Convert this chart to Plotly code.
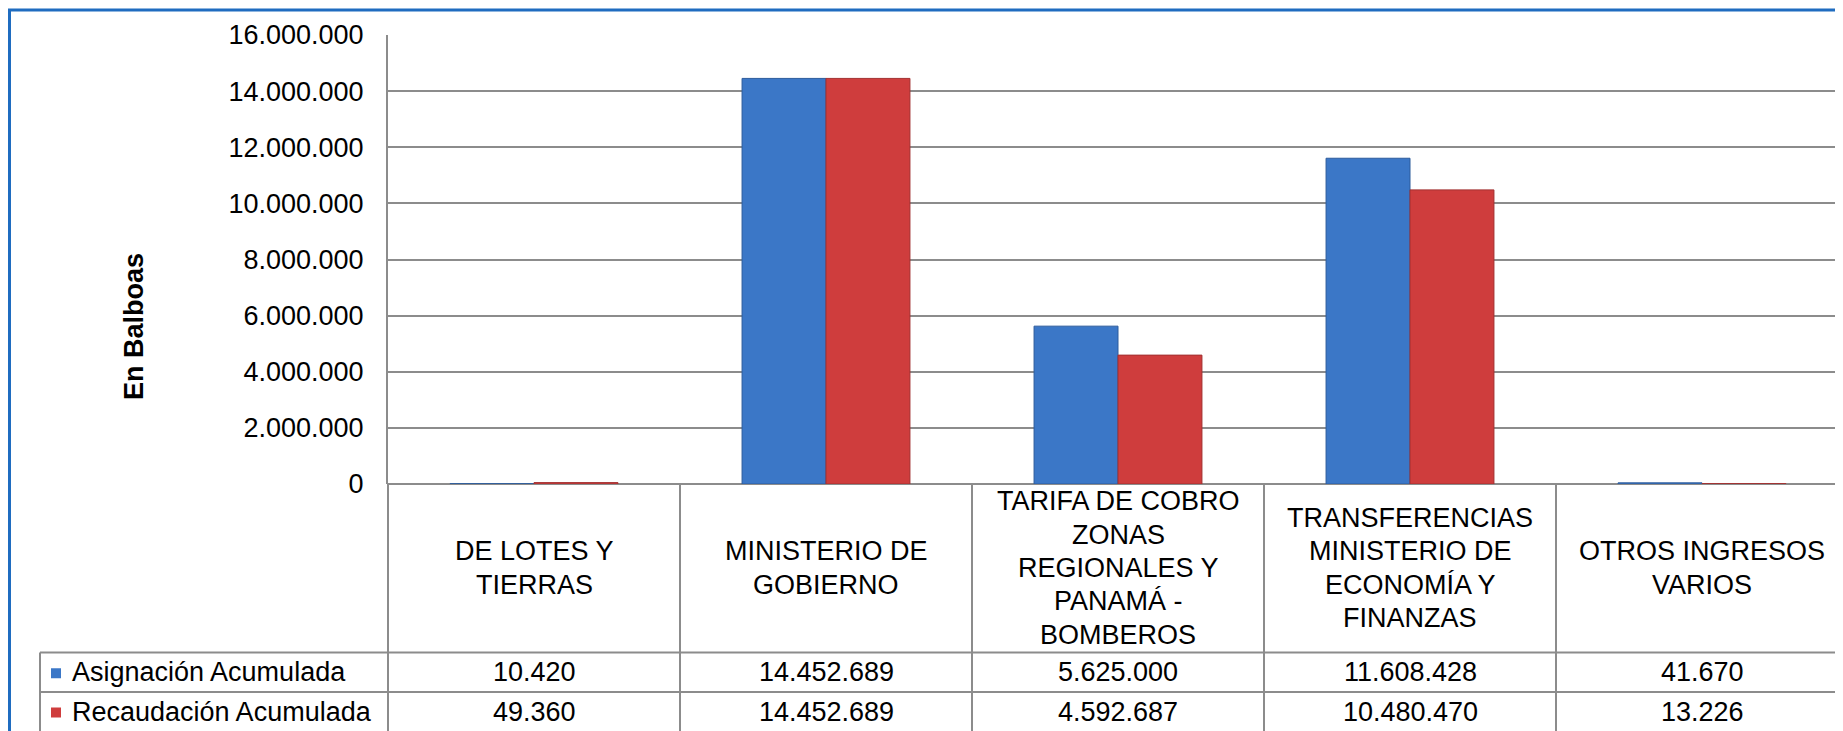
import plotly.graph_objects as go

# ---- data ----
categories = [
    "DE LOTES Y<br>TIERRAS",
    "MINISTERIO DE<br>GOBIERNO",
    "TARIFA DE COBRO<br>ZONAS<br>REGIONALES Y<br>PANAMÁ -<br>BOMBEROS",
    "TRANSFERENCIAS<br>MINISTERIO DE<br>ECONOMÍA Y<br>FINANZAS",
    "OTROS INGRESOS<br>VARIOS",
]
series_names = ["Asignación Acumulada", "Recaudación Acumulada"]
asignacion = [10420, 14452689, 5625000, 11608428, 41670]
recaudacion = [49360, 14452689, 4592687, 10480470, 13226]
y_ticks = [0, 2000000, 4000000, 6000000, 8000000, 10000000, 12000000, 14000000, 16000000]
y_title = "En Balboas"

# ---- style ----
FONT = "Liberation Sans, Arial, sans-serif"
FS = 27
GRID = "#8c8c8c"
fills = ["#3b77c7", "#cf3d3d"]
edges = ["#2d5c9c", "#a33131"]
OFF = 8  # page body margin
W, H = 1843 - OFF, 731 - OFF
# pixel bounds measured on the page, converted to figure coordinates
L, T, B = 388 - OFF, 35 - OFF, 484 - OFF


def px(x_page):
    return (x_page - OFF - L) / (W - L)


def py(y_page):
    return (B - (y_page - OFF)) / (B - T)


def fmt(v):
    return f"{v:,}".replace(",", ".")


xs = list(range(len(categories)))
fig = go.Figure()
for name, vals, fc, ec in zip(series_names, [asignacion, recaudacion], fills, edges):
    fig.add_trace(go.Bar(
        x=xs, y=vals, name=name,
        marker=dict(color=fc, line=dict(color=ec, width=1)),
        hoverinfo="y+name",
    ))

shapes = []
annotations = []

# outer blue frame
shapes.append(dict(type="rect", xref="paper", yref="paper",
                   x0=px(9.5), x1=px(1843 + 20), y0=py(10), y1=py(731 + 20),
                   line=dict(color="#1f6cc0", width=3), layer="below"))

# table lines
row1_top, row2_top, bottom = 652.5, 692, 731 + 10
shapes.append(dict(type="line", xref="paper", yref="paper", x0=0, x1=0,
                   y0=py(484), y1=py(bottom), line=dict(color=GRID, width=2)))
for i in range(len(categories) - 1):
    shapes.append(dict(type="line", xref="x", yref="paper", x0=i + 0.5, x1=i + 0.5,
                       y0=py(484), y1=py(bottom), line=dict(color=GRID, width=2)))
for yy in (row1_top, row2_top):
    shapes.append(dict(type="line", xref="paper", yref="paper", x0=px(40), x1=px(1843 + 10),
                       y0=py(yy), y1=py(yy), line=dict(color=GRID, width=2)))
shapes.append(dict(type="line", xref="paper", yref="paper", x0=px(40), x1=px(40),
                   y0=py(row1_top), y1=py(bottom), line=dict(color=GRID, width=2)))

# category labels (one annotation per line for tighter line spacing)
LINE_H = 33.3
for i, c in enumerate(categories):
    lines = c.split("<br>")
    n = len(lines)
    for k, ln in enumerate(lines):
        yc = 568 + (k - (n - 1) / 2) * LINE_H
        annotations.append(dict(xref="x", yref="paper", x=i, y=py(yc), text=ln,
                                showarrow=False, xanchor="center", yanchor="middle",
                                font=dict(family=FONT, size=FS, color="black")))

# data table rows
row_centers = [(row1_top + row2_top) / 2, 711.5]
for r, (name, vals, fc) in enumerate(zip(series_names, [asignacion, recaudacion], fills)):
    yc = row_centers[r]
    for i, v in enumerate(vals):
        annotations.append(dict(xref="x", yref="paper", x=i, y=py(yc), text=fmt(v),
                                showarrow=False, xanchor="center", yanchor="middle",
                                font=dict(family=FONT, size=FS, color="black")))
    annotations.append(dict(xref="paper", yref="paper", x=px(70), y=py(yc), text=name,
                            showarrow=False, xanchor="left", yanchor="middle",
                            font=dict(family=FONT, size=FS, color="black")))
    shapes.append(dict(type="rect", xref="paper", yref="paper",
                       x0=px(51), x1=px(61), y0=py(yc - 4), y1=py(yc + 6),
                       fillcolor=fc, line=dict(width=0)))

# y-axis title
annotations.append(dict(xref="paper", yref="paper", x=px(134), y=py(327), text=f"<b>{y_title}</b>",
                        textangle=-90, showarrow=False, xanchor="center", yanchor="middle",
                        font=dict(family=FONT, size=FS, color="black")))

fig.update_layout(
    width=W, height=H,
    margin=dict(l=L, r=0, t=T, b=H - B, pad=0),
    paper_bgcolor="white", plot_bgcolor="white",
    barmode="group", bargap=0.425, bargroupgap=0,
    showlegend=False,
    separators=",.",
    font=dict(family=FONT, size=FS, color="black"),
    shapes=shapes, annotations=annotations,
    xaxis=dict(range=[-0.5, -0.5 + (W - L) / 292.0], showticklabels=False,
               showgrid=False, zeroline=False, showline=False, fixedrange=True),
    yaxis=dict(range=[0, 16000000], tickvals=y_ticks, tickformat=",d",
               showgrid=True, gridcolor=GRID, gridwidth=2,
               zeroline=True, zerolinecolor=GRID, zerolinewidth=2,
               showline=True, linecolor=GRID, linewidth=2,
               ticks="outside", ticklen=17, tickcolor="rgba(0,0,0,0)",
               tickfont=dict(family=FONT, size=FS, color="black"), fixedrange=True),
)

fig.write_html("out.html")
